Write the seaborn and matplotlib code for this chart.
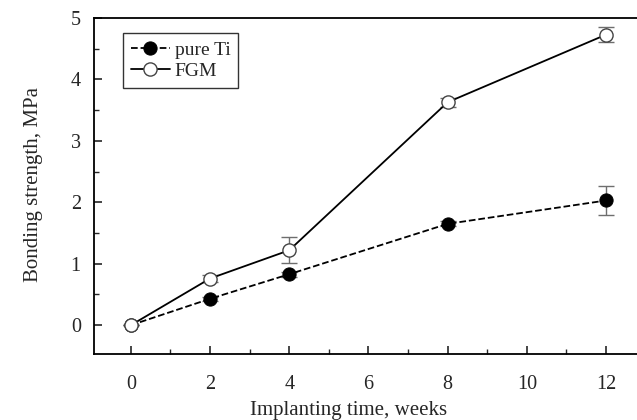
import pandas as pd
import seaborn as sns
import matplotlib.pyplot as plt
from matplotlib.ticker import MultipleLocator

# data
weeks = [0, 2, 4, 8, 12]
pure_ti = [0.0, 0.43, 0.83, 1.65, 2.03]
pure_ti_err = [0.0, 0.03, 0.04, 0.04, 0.23]
fgm = [0.0, 0.76, 1.22, 3.63, 4.73]
fgm_err = [0.0, 0.05, 0.21, 0.07, 0.12]

df = pd.DataFrame({"weeks": weeks, "pure Ti": pure_ti, "FGM": fgm})

sns.set_style("ticks")
plt.rcParams["font.family"] = ["Liberation Serif", "DejaVu Serif"]
plt.rcParams["xtick.direction"] = "in"
plt.rcParams["ytick.direction"] = "in"

fig = plt.figure(figsize=(6.37, 4.2), dpi=100)
ax = fig.add_axes([0.1476, 0.157, 0.866, 0.800])

# error bars under the markers
ax.errorbar(weeks, pure_ti, yerr=pure_ti_err, fmt="none", ecolor="#6e6e6e",
            elinewidth=1.0, capsize=6, capthick=1.0, zorder=2)
ax.errorbar(weeks, fgm, yerr=fgm_err, fmt="none", ecolor="#6e6e6e",
            elinewidth=1.0, capsize=6, capthick=1.0, zorder=2)

sns.lineplot(data=df, x="weeks", y="pure Ti", ax=ax, color="black",
             linestyle="--", linewidth=1.3, marker="o", markersize=9.5,
             markerfacecolor="black", markeredgecolor="black",
             label="pure Ti", zorder=3)
sns.lineplot(data=df, x="weeks", y="FGM", ax=ax, color="black",
             linestyle="-", linewidth=1.3, marker="o", markersize=9.5,
             markerfacecolor="white", markeredgecolor="#444444",
             markeredgewidth=1.0, label="FGM", zorder=3)

ax.set_xlim(-0.93, 13)
ax.set_ylim(-0.47, 5)
ax.xaxis.set_major_locator(MultipleLocator(2))
ax.xaxis.set_minor_locator(MultipleLocator(1))
ax.yaxis.set_major_locator(MultipleLocator(1))
ax.yaxis.set_minor_locator(MultipleLocator(0.5))
ax.tick_params(which="major", length=6, width=1.2, labelsize=14.5)
ax.tick_params(which="minor", length=3.5, width=1.0)
ax.tick_params(axis="x", pad=15)
ax.tick_params(axis="y", pad=9.5)

for side in ["left", "bottom", "top", "right"]:
    ax.spines[side].set_linewidth(1.3)
    ax.spines[side].set_color("black")

ax.set_xlabel("Implanting time, weeks", fontsize=15)
ax.set_ylabel("Bonding strength, MPa", fontsize=15)
ax.xaxis.label.set_va("center")
ax.yaxis.label.set_va("center")
ax.xaxis.set_label_coords(0.462, -0.167)
ax.yaxis.set_label_coords(-0.109, 0.506)

leg = ax.legend(loc="upper left", bbox_to_anchor=(0.0525, 0.955), fontsize=14,
                frameon=True, fancybox=False, edgecolor="black",
                handlelength=2.0, handletextpad=0.25, borderpad=0.4,
                labelspacing=0.2, borderaxespad=0)
leg.get_frame().set_linewidth(1.0)

fig.savefig("out.png", dpi=100)
